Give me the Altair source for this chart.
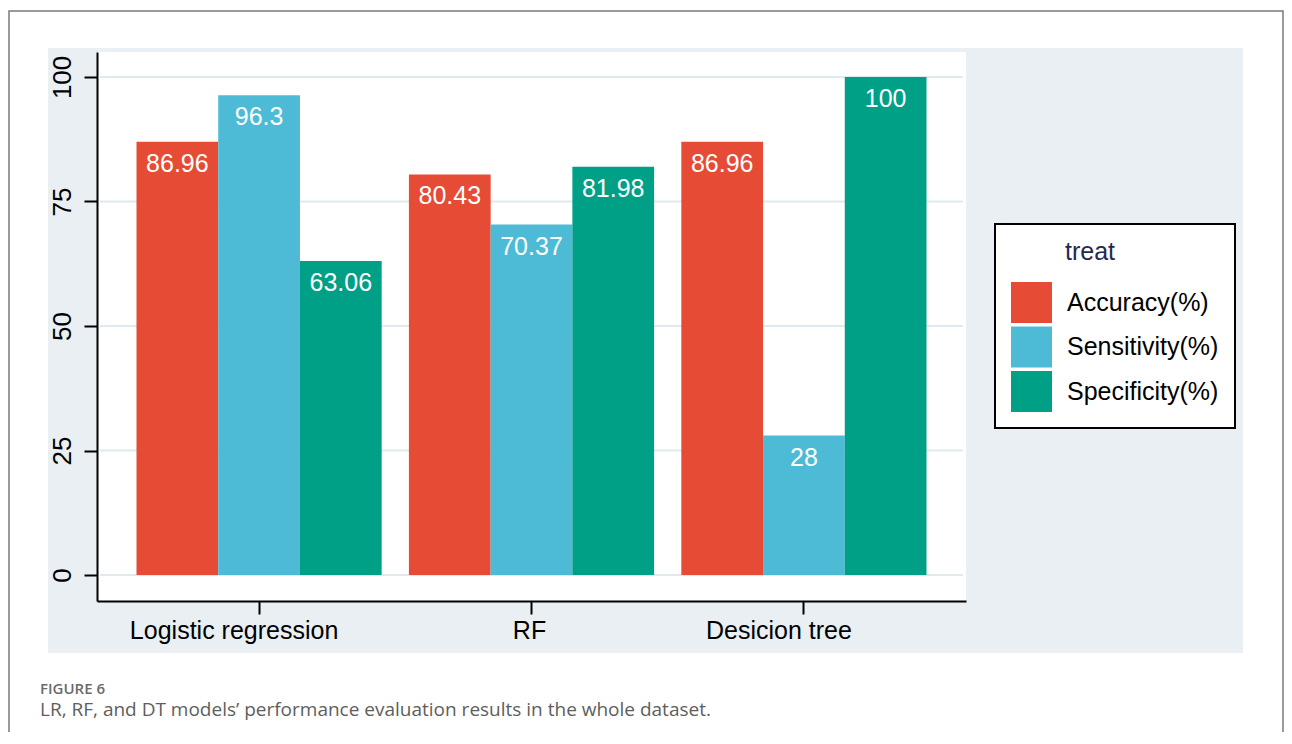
import altair as alt
import pandas as pd

# ---- data ----
models = ["Logistic regression", "RF", "Desicion tree"]
metrics = ["Accuracy(%)", "Sensitivity(%)", "Specificity(%)"]
accuracy = [86.96, 80.43, 86.96]
sensitivity = [96.3, 70.37, 28]
specificity = [63.06, 81.98, 100]
y_ticks = [0, 25, 50, 75, 100]
colors = ["#E64B35", "#4DBBD5", "#00A087"]
legend_title = "treat"
caption_head = "FIGURE 6"
caption_text = "LR, RF, and DT models\u2019 performance evaluation results in the whole dataset."

rows = []
for i, m in enumerate(models):
    for metric, series in zip(metrics, [accuracy, sensitivity, specificity]):
        v = series[i]
        rows.append({"model": m, "metric": metric, "value": v, "label": f"{v:g}"})
df = pd.DataFrame(rows)
grid_df = pd.DataFrame({"value": y_ticks})
one = pd.DataFrame({"k": [0]})

FONT = "Liberation Sans"
W, H = 869, 549

yscale = alt.Scale(domain=[-5.2, 105], nice=False, zero=False)
xscale = alt.Scale(domain=models, paddingInner=0.1, paddingOuter=0.145)
oscale = alt.Scale(domain=metrics, paddingInner=0, paddingOuter=0)

xaxis = alt.Axis(title=None, labelAngle=0, labelFont=FONT, labelFontSize=25, labelColor="black",
                 tickSize=13, tickWidth=2, tickColor="black", domainColor="black", domainWidth=2,
                 labelPadding=4, grid=False, zindex=1, labelFlush=False, labelLimit=600,
                 labelOffset={"condition": {"test": "datum.value === 'RF'", "value": -2}, "value": -25})
yaxis = alt.Axis(title=None, values=y_ticks, labelAngle=270, labelAlign="center", labelBaseline="bottom",
                 labelFont=FONT, labelFontSize=26, labelColor="black", tickSize=13, tickWidth=2,
                 tickColor="black", domainColor="black", domainWidth=2, labelPadding=9, grid=False,
                 zindex=1, labelFlush=False, labelOverlap=False)

frame = alt.Chart(one).mark_rect(fillOpacity=0, stroke="#7a7a7a", strokeWidth=1.5).encode(
    x=alt.value(-88), x2=alt.value(1186), y=alt.value(-41), y2=alt.value(800))
panel = alt.Chart(one).mark_rect(fill="#e9eff2").encode(
    x=alt.value(-49), x2=alt.value(1146), y=alt.value(-4), y2=alt.value(601))
plotbg = alt.Chart(one).mark_rect(fill="white").encode(
    x=alt.value(0), x2=alt.value(W), y=alt.value(0), y2=alt.value(H))

grid = alt.Chart(grid_df).mark_rule(color="#e0e9ed", strokeWidth=2).encode(
    y=alt.Y("value:Q", scale=yscale, axis=yaxis),
    x=alt.value(3), x2=alt.value(W - 3))

bars = alt.Chart(df).mark_bar().encode(
    x=alt.X("model:N", sort=models, scale=xscale, axis=xaxis),
    xOffset=alt.XOffset("metric:N", sort=metrics, scale=oscale),
    y=alt.Y("value:Q", scale=yscale, axis=yaxis),
    color=alt.Color("metric:N", sort=metrics, scale=alt.Scale(domain=metrics, range=colors),
                    legend=alt.Legend(
                        title=legend_title, orient="none", legendX=898, legendY=172,
                        direction="vertical", strokeColor="black", fillColor="white", padding=16,
                        symbolType="square", symbolSize=1681, symbolStrokeWidth=0, symbolOpacity=1,
                        labelFont=FONT, labelFontSize=25, labelColor="black", labelOffset=15,
                        labelLimit=400, titleFont=FONT, titleFontSize=25, titleFontWeight="normal",
                        titleColor="#1f2a50", titlePadding=17, titleLimit=400, rowPadding=3.5,
                        titleAnchor="middle", titleAlign="right")),
)

labels = alt.Chart(df).mark_text(color="white", fontSize=25, font=FONT, baseline="alphabetic",
                                 align="center", dy=30).encode(
    x=alt.X("model:N", sort=models, scale=xscale, axis=xaxis),
    xOffset=alt.XOffset("metric:N", sort=metrics, scale=oscale),
    y=alt.Y("value:Q", scale=yscale, axis=yaxis),
    text="label:N",
)

head = alt.Chart(pd.DataFrame({"t": [caption_head]})).mark_text(
    align="left", baseline="alphabetic", font="Open Sans", fontSize=15, fontWeight=600,
    color="#6b6b6b").encode(x=alt.value(-57), y=alt.value(642), text="t:N")
cap = alt.Chart(pd.DataFrame({"t": [caption_text]})).mark_text(
    align="left", baseline="alphabetic", font="Open Sans", fontSize=19,
    color="#5e5e5e").encode(x=alt.value(-57), y=alt.value(664), text="t:N")

chart = alt.layer(frame, panel, plotbg, grid, bars, labels, head, cap).properties(
    width=W, height=H,
    padding={"left": 89, "top": 44, "right": 318, "bottom": 131},
    autosize=alt.AutoSizeParams(type="none"),
    background="white",
).configure_view(stroke="transparent").configure_legend(strokeWidth=2)

chart.save("out.html", embed_options={"renderer": "svg", "actions": False})
